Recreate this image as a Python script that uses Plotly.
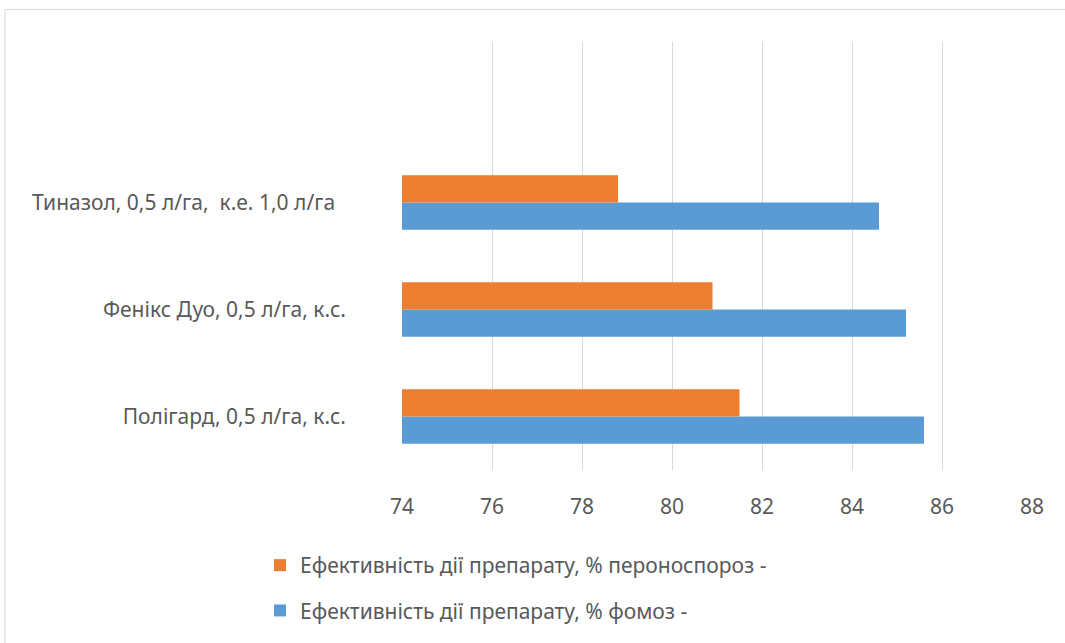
import plotly.graph_objects as go

categories = ["Полігард, 0,5 л/га, к.с.", "Фенікс Дуо, 0,5 л/га, к.с.", "Тиназол, 0,5 л/га,\u00a0 к.е. 1,0 л/га\u00a0\u00a0"]
fomoz = [85.6, 85.2, 84.6]
peronosporoz = [81.5, 80.9, 78.8]
series_names = ["Ефективність дії препарату, % пероноспороз -", "Ефективність дії препарату, % фомоз -"]
x_ticks = [74, 76, 78, 80, 82, 84, 86, 88]

pos = list(range(len(categories)))
W, H = 1065, 643
L, R, T, B = 402, 33, 42, 173
pw, ph = W - L - R, H - T - B

fig = go.Figure()
fig.add_trace(go.Bar(y=pos, x=fomoz, orientation="h", name=series_names[1],
                     marker=dict(color="#5b9bd5", line=dict(width=0)), legendgroup="b", legendrank=2))
fig.add_trace(go.Bar(y=pos, x=peronosporoz, orientation="h", name=series_names[0],
                     marker=dict(color="#ed7d31", line=dict(width=0)), legendgroup="a", legendrank=1))

fig.update_layout(
    width=W, height=H,
    margin=dict(l=L, r=R, t=T, b=B),
    paper_bgcolor="white", plot_bgcolor="white",
    barmode="group", bargap=0.49, bargroupgap=0,
    font=dict(family="Noto Sans", size=21, color="#595959"),
    xaxis=dict(range=[74, 88], tickvals=x_ticks, showgrid=True, gridcolor="#d9d9d9", gridwidth=1,
               zeroline=False, showline=False, ticks="", ticklabelstandoff=22,
               tickfont=dict(size=21)),
    yaxis=dict(range=[-0.5, 3.5], tickvals=pos, ticktext=categories, showgrid=False,
               zeroline=False, showline=False, ticks="", ticklabelstandoff=55,
               tickfont=dict(size=21)),
    legend=dict(x=(260 - L) / pw, y=-(545 - (T + ph)) / ph, xanchor="left", yanchor="top",
                orientation="v", traceorder="grouped", tracegroupgap=15,
                font=dict(size=21, color="#595959"), itemwidth=30),
    shapes=[dict(type="rect", xref="paper", yref="paper",
                 x0=(5 - L) / pw, x1=(1075 - L) / pw,
                 y0=-(660 - T - ph) / ph, y1=1 + (T - 9.5) / ph,
                 line=dict(color="#d9d9d9", width=1), fillcolor="rgba(0,0,0,0)", layer="below")],
)

fig.write_html("out.html", config={"displayModeBar": False},
               post_script="document.body.style.margin='0';document.body.style.overflow='hidden';")
